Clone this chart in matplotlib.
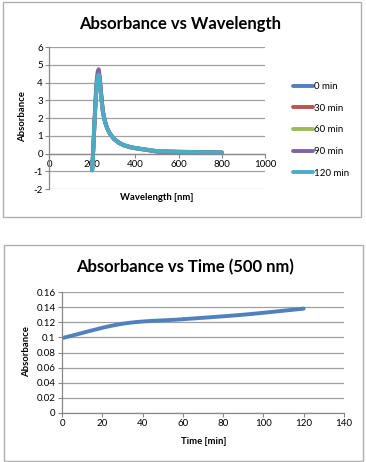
import numpy as np
import matplotlib
matplotlib.use('Agg')
import matplotlib.pyplot as plt
from matplotlib.patches import Rectangle
from matplotlib.ticker import FuncFormatter, MultipleLocator

plt.rcParams['font.family'] = ['Lato', 'DejaVu Sans']

# 스펙트럼 데이터 (파장 nm, 흡광도)
wavelength = [200, 205, 210, 215, 220, 225, 230, 235, 240, 245, 250, 260, 270, 280,
              300, 325, 350, 375, 400, 450, 500, 550, 600, 650, 700, 750, 800]
abs_0 = [-0.9, 0.2, 1.5, 2.7, 3.7, 4.3, 4.45, 4.1, 3.4, 2.8, 2.3, 1.75, 1.4, 1.15,
         0.82, 0.58, 0.44, 0.35, 0.29, 0.2, 0.1, 0.09, 0.08, 0.07, 0.06, 0.05, 0.04]
abs_30 = [-0.9, 0.25, 1.55, 2.75, 3.75, 4.35, 4.5, 4.15, 3.45, 2.85, 2.3, 1.75, 1.4, 1.15,
          0.83, 0.59, 0.45, 0.36, 0.3, 0.21, 0.12, 0.1, 0.09, 0.08, 0.07, 0.06, 0.05]
abs_60 = [-0.9, 0.25, 1.6, 2.8, 3.8, 4.4, 4.55, 4.2, 3.5, 2.85, 2.3, 1.75, 1.4, 1.15,
          0.83, 0.59, 0.45, 0.36, 0.3, 0.21, 0.124, 0.11, 0.09, 0.08, 0.07, 0.06, 0.05]
abs_90 = [-0.95, 0.3, 1.7, 3.0, 4.05, 4.6, 4.75, 4.35, 3.6, 2.95, 2.35, 1.8, 1.42, 1.17,
          0.84, 0.6, 0.46, 0.37, 0.31, 0.22, 0.13, 0.11, 0.1, 0.09, 0.08, 0.07, 0.06]
abs_120 = [-0.95, 0.25, 1.6, 2.8, 3.75, 4.3, 4.45, 4.1, 3.4, 2.8, 2.3, 1.75, 1.4, 1.15,
           0.84, 0.6, 0.46, 0.37, 0.31, 0.22, 0.138, 0.12, 0.1, 0.09, 0.08, 0.07, 0.06]
series_labels = ['0 min', '30 min', '60 min', '90 min', '120 min']
series_colors = ['#4F81BD', '#C0504D', '#9BBB59', '#8064A2', '#4BACC6']

# 500 nm 시간 변화
time_min = [0, 30, 60, 90, 120]
abs_500 = [0.099, 0.118, 0.124, 0.130, 0.138]


def smooth(x, y, n=30):
    # Catmull-Rom 곡선 (엑셀 smooth line 흉내)
    x = np.asarray(x, float)
    y = np.asarray(y, float)
    px = np.concatenate([[2 * x[0] - x[1]], x, [2 * x[-1] - x[-2]]])
    py = np.concatenate([[2 * y[0] - y[1]], y, [2 * y[-1] - y[-2]]])
    xs, ys = [], []
    t = np.linspace(0, 1, n)
    for i in range(1, len(px) - 2):
        for p, out in ((px, xs), (py, ys)):
            p0, p1, p2, p3 = p[i - 1], p[i], p[i + 1], p[i + 2]
            out.extend(0.5 * (2 * p1 + (-p0 + p2) * t + (2 * p0 - 5 * p1 + 4 * p2 - p3) * t ** 2
                              + (-p0 + 3 * p1 - 3 * p2 + p3) * t ** 3))
    return xs, ys


W, H = 366, 462
fig = plt.figure(figsize=(W / 100, H / 100), dpi=100)
grid_c = '#a0a0a0'
fmt = FuncFormatter(lambda v, p: '%g' % round(v, 4))

# 차트 테두리
for (x0, y0, x1, y1) in [(3, 2, 361, 217), (4, 245, 363, 461)]:
    fig.patches.append(Rectangle((x0 / W, 1 - y1 / H), (x1 - x0) / W, (y1 - y0) / H,
                                 transform=fig.transFigure, fill=False,
                                 edgecolor='#b0b0b0', linewidth=1))

# 1. 파장 스펙트럼
ax1 = fig.add_axes([49 / W, 1 - 189 / H, 216 / W, 142 / H])
for vals, lab, c in zip([abs_0, abs_30, abs_60, abs_90, abs_120], series_labels, series_colors):
    ax1.plot(wavelength, vals, color=c, lw=2.8, label=lab, solid_joinstyle='round',
             solid_capstyle='round')
ax1.set_xlim(0, 1000)
ax1.set_ylim(-2, 6)
ax1.yaxis.set_major_locator(MultipleLocator(1))
ax1.xaxis.set_major_locator(MultipleLocator(200))
ax1.grid(axis='y', color=grid_c, lw=0.9)
ax1.set_axisbelow(True)
ax1.spines['bottom'].set_position(('data', 0))
for s in ['top', 'right']:
    ax1.spines[s].set_visible(False)
for s in ['bottom', 'left']:
    ax1.spines[s].set_color('#888888')
    ax1.spines[s].set_linewidth(0.9)
ax1.tick_params(labelsize=7, length=3, width=0.8, color='#888888', pad=1.5)
ax1.yaxis.set_major_formatter(fmt)
ax1.legend(loc='upper left', bbox_to_anchor=(293 / W, 1 - 82 / H),
           bbox_transform=fig.transFigure, frameon=False, fontsize=7,
           handlelength=2.1, handletextpad=0.1, labelspacing=1.3, borderpad=0,
           borderaxespad=0)
fig.text(180 / W, 1 - 24 / H, 'Absorbance vs Wavelength', ha='center', va='center',
         fontsize=12, fontweight='bold')
fig.text(157 / W, 1 - 198 / H, 'Wavelength [nm]', ha='center', va='center',
         fontsize=6.8, fontweight='bold')
fig.text(23 / W, 1 - 117 / H, 'Absorbance', ha='center', va='center', rotation=90,
         fontsize=6.8, fontweight='bold')

# 2. 500 nm 시간 변화
ax2 = fig.add_axes([62 / W, 1 - 413 / H, 282 / W, 121 / H])
sx, sy = smooth(time_min, abs_500)
ax2.plot(sx, sy, color='#4F81BD', lw=2.8, solid_capstyle='round')
ax2.set_xlim(0, 140)
ax2.set_ylim(0, 0.16)
ax2.xaxis.set_major_locator(MultipleLocator(20))
ax2.yaxis.set_major_locator(MultipleLocator(0.02))
ax2.grid(axis='y', color=grid_c, lw=0.9)
ax2.set_axisbelow(True)
for s in ['top', 'right']:
    ax2.spines[s].set_visible(False)
for s in ['bottom', 'left']:
    ax2.spines[s].set_color('#888888')
    ax2.spines[s].set_linewidth(0.9)
ax2.tick_params(labelsize=7, length=3, width=0.8, color='#888888', pad=1.5)
ax2.yaxis.set_major_formatter(fmt)
fig.text(185 / W, 1 - 267 / H, 'Absorbance vs Time (500 nm)', ha='center', va='center',
         fontsize=12, fontweight='bold')
fig.text(204 / W, 1 - 442 / H, 'Time [min]', ha='center', va='center',
         fontsize=6.8, fontweight='bold')
fig.text(27 / W, 1 - 352 / H, 'Absorbance', ha='center', va='center', rotation=90,
         fontsize=6.8, fontweight='bold')

fig.savefig('out.png', dpi=100)
